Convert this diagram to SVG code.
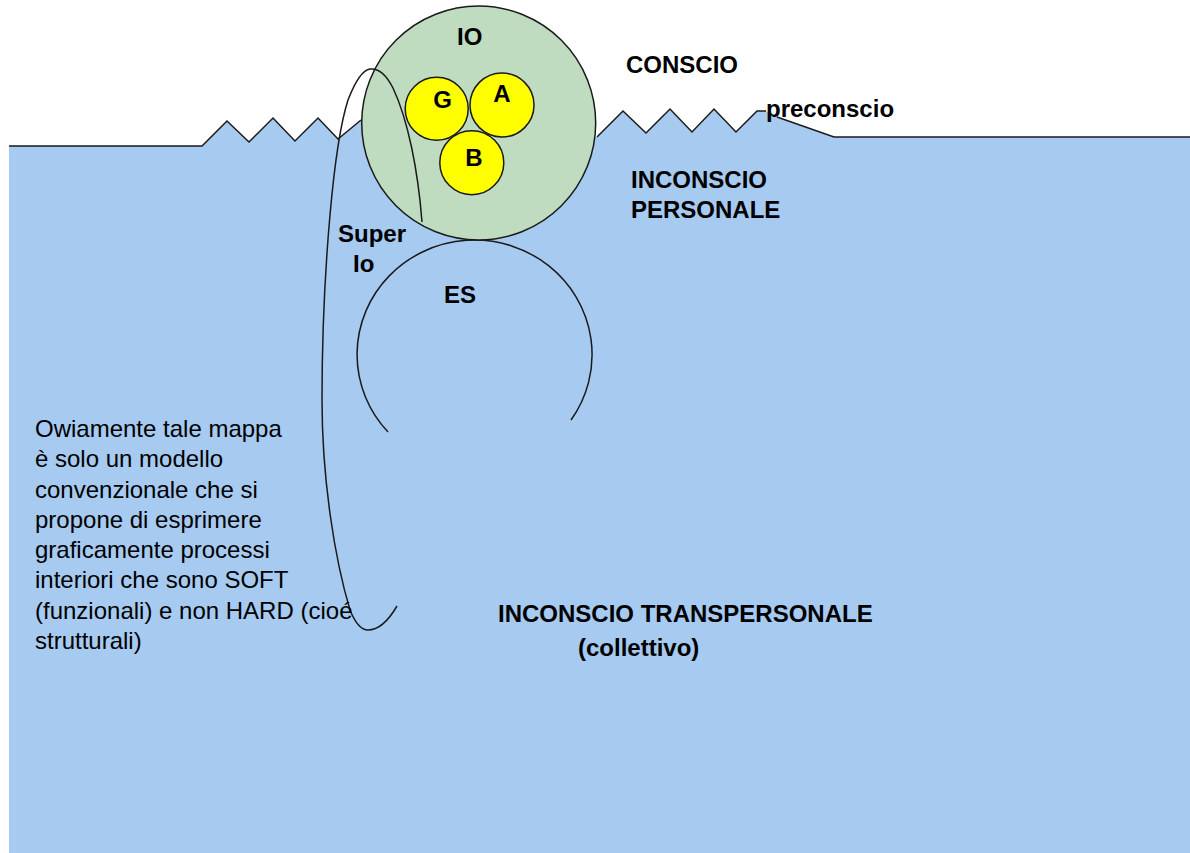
<svg xmlns="http://www.w3.org/2000/svg" width="1190" height="853" viewBox="0 0 1190 853">
<style>
.ln{fill:none;stroke:#1a1a1a;stroke-width:1.5;stroke-linejoin:miter}
.b{font-family:"Liberation Sans",Arial,sans-serif;font-weight:bold;font-size:24px;fill:#000}
.r{font-family:"Liberation Sans",Arial,sans-serif;font-size:24px;fill:#000}
.y{fill:#ffff00;stroke:#1a1a1a;stroke-width:1.5}
</style>
<rect width="1190" height="853" fill="#ffffff"/>
<g id="sea">
<polygon fill="#a6caf0" points="9,146 202,146 227,121 249,142 273,118 295,141 318,118 338,139 361,120 597,137 623,111 646,133 670,109 692,132 714,109 736,132 757,111 766,111 777,117 834,137 1190,137 1190,853 9,853"/>
<polyline class="ln" points="9,146 202,146 227,121 249,142 273,118 295,141 318,118 338,139 361,120"/>
<polyline class="ln" points="597,137 623,111 646,133 670,109 692,132 714,109 736,132 757,111 766,111"/>
<polyline class="ln" points="777,117 834,137 1190,137"/>
</g>
<g id="es">
<path class="ln" d="M388,432 A117.5,114.5 0 1 1 571,420"/>
<text class="b" x="444" y="303">ES</text>
</g>
<g id="io">
<circle cx="478.7" cy="123" r="117" fill="#c0dcc0" stroke="#1a1a1a" stroke-width="1.5"/>
<text class="b" x="457" y="45">IO</text>
</g>
<g id="superio">
<path class="ln" d="M422,222 C418,170 408,120 393,88 C386,74 378,68 370,69 C362,70 355,82 348,100 C340,125 334,170 330,215 C326,260 322,330 322,400 C322,480 335,560 350,610 C356,625 362,630 368,630 C380,630 390,618 397,606"/>
<text class="b" x="338" y="242">Super</text>
<text class="b" x="353" y="272">Io</text>
</g>
<g id="g">
<circle class="y" cx="436.7" cy="108.7" r="31.5"/>
<text class="b" x="442.5" y="108" text-anchor="middle">G</text>
</g>
<g id="a">
<circle class="y" cx="502" cy="105" r="32"/>
<text class="b" x="502" y="102" text-anchor="middle">A</text>
</g>
<g id="bnode">
<circle class="y" cx="471.8" cy="162.7" r="32"/>
<text class="b" x="474" y="166" text-anchor="middle">B</text>
</g>
<g id="labels">
<text class="b" x="626" y="73">CONSCIO</text>
<text class="b" x="766" y="117">preconscio</text>
<text class="b" x="631" y="188">INCONSCIO</text>
<text class="b" x="631" y="218">PERSONALE</text>
<text class="b" x="498" y="622">INCONSCIO TRANSPERSONALE</text>
<text class="b" x="578" y="656">(collettivo)</text>
</g>
<g id="note" class="r">
<text x="35" y="437">Owiamente tale mappa</text>
<text x="35" y="467">è solo un modello</text>
<text x="35" y="497.5">convenzionale che si</text>
<text x="35" y="528">propone di esprimere</text>
<text x="35" y="558">graficamente processi</text>
<text x="35" y="588">interiori che sono SOFT</text>
<text x="35" y="619">(funzionali) e non HARD (cioé</text>
<text x="35" y="649">strutturali)</text>
</g>
<g id="connectors"></g>
</svg>
